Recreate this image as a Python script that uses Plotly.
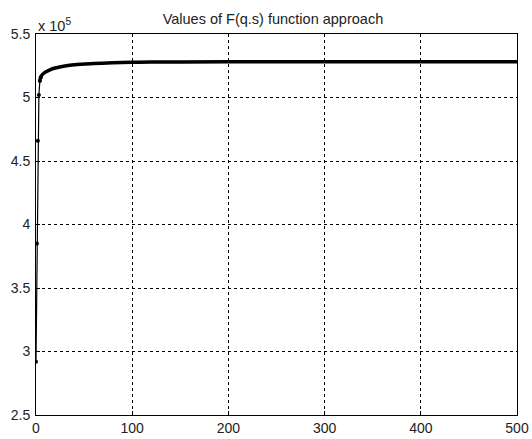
import plotly.graph_objects as go

iters = [0, 1, 2, 3, 4, 5, 6, 8, 10, 15, 20, 30, 40, 60, 80, 100, 120, 150, 200, 300, 400, 500]
fvals = [2.92, 3.85, 4.66, 5.02, 5.13, 5.16, 5.175, 5.19, 5.20, 5.22, 5.232, 5.248, 5.258,
         5.267, 5.273, 5.277, 5.279, 5.280, 5.281, 5.282, 5.282, 5.282]
xticks = [0, 100, 200, 300, 400, 500]
yticks = [2.5, 3, 3.5, 4, 4.5, 5, 5.5]
title = "Values of F(q.s) function approach"

n_early = 5
fig = go.Figure()
fig.add_trace(go.Scatter(x=iters[:n_early + 1], y=fvals[:n_early + 1], mode="lines+markers",
                         line=dict(color="black", width=1.2),
                         marker=dict(color="black", size=4), showlegend=False))
fig.add_trace(go.Scatter(x=iters[n_early - 1:], y=fvals[n_early - 1:], mode="lines",
                         line=dict(color="black", width=3.5, shape="spline"), showlegend=False))

axis_common = dict(showline=True, linecolor="black", linewidth=1, mirror=True,
                   showgrid=True, gridcolor="black", gridwidth=1, griddash="dot",
                   zeroline=False, ticks="inside", ticklen=4, tickcolor="black",
                   automargin=False,
                   tickfont=dict(family="Liberation Sans, Arial", size=14, color="#222"))
fig.update_xaxes(range=[0, 500], tickvals=xticks, ticktext=[str(v) for v in xticks],
                 ticklabelstandoff=0, **axis_common)
fig.update_yaxes(range=[2.5, 5.5], tickvals=yticks, ticktext=[f"{v:g}" for v in yticks],
                 ticklabelstandoff=2, **axis_common)

fig.update_layout(
    width=532, height=439,
    margin=dict(l=36, r=15, t=34, b=24, autoexpand=False),
    plot_bgcolor="white", paper_bgcolor="white",
    title=dict(text=title, x=0.513, xanchor="center", y=0.957, yanchor="middle",
               automargin=False,
               font=dict(family="Liberation Sans, Arial", size=14.5, color="#222")),
    annotations=[dict(text="x 10<sup>5</sup>", xref="paper", yref="paper", x=0, y=1,
                      xanchor="left", yanchor="bottom", showarrow=False, yshift=-2,
                      font=dict(family="Liberation Sans, Arial", size=14.5, color="#222"))],
)
fig.write_html("out.html", config={"displayModeBar": False},
               post_script="document.body.style.margin='0';document.body.style.padding='0';")
